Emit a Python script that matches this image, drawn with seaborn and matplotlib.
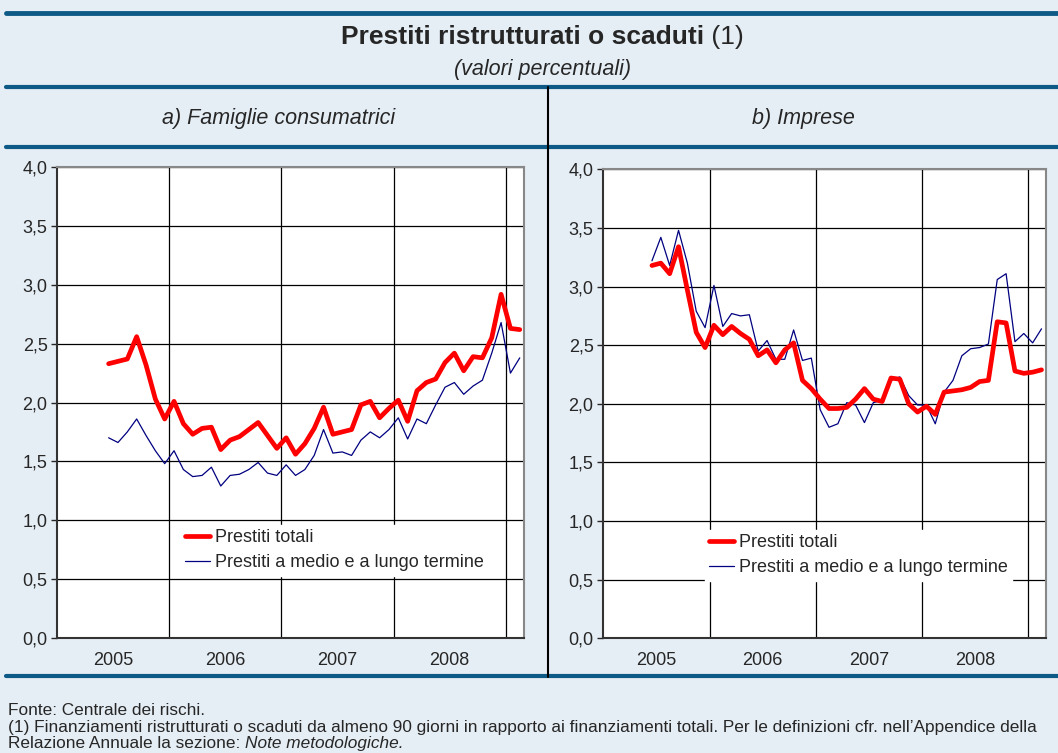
import numpy as np
import pandas as pd
import seaborn as sns
import matplotlib.pyplot as plt

# Monthly data, Dec 2004 - Aug 2008 (values in %)
months = pd.period_range("2004-12", "2008-08", freq="M")
years = ["2005", "2006", "2007", "2008"]

fam_totali = [2.33, 2.35, 2.37, 2.56, 2.32, 2.03, 1.86, 2.01, 1.82, 1.73, 1.78, 1.79,
              1.60, 1.68, 1.71, 1.77, 1.83, 1.72, 1.61, 1.70, 1.56, 1.65, 1.78, 1.96,
              1.73, 1.75, 1.77, 1.98, 2.01, 1.87, 1.95, 2.02, 1.84, 2.10, 2.17, 2.20,
              2.34, 2.42, 2.27, 2.39, 2.38, 2.55, 2.92, 2.63, 2.62]
fam_mlt = [1.70, 1.66, 1.75, 1.86, 1.72, 1.59, 1.48, 1.59, 1.43, 1.37, 1.38, 1.45,
           1.29, 1.38, 1.39, 1.43, 1.49, 1.40, 1.38, 1.47, 1.38, 1.43, 1.55, 1.77,
           1.57, 1.58, 1.55, 1.68, 1.75, 1.70, 1.77, 1.87, 1.69, 1.86, 1.82, 1.98,
           2.13, 2.17, 2.07, 2.14, 2.19, 2.42, 2.68, 2.25, 2.38]
imp_totali = [3.18, 3.20, 3.11, 3.34, 2.97, 2.61, 2.48, 2.67, 2.59, 2.66, 2.60, 2.55,
              2.41, 2.46, 2.35, 2.46, 2.52, 2.20, 2.13, 2.04, 1.96, 1.96, 1.97, 2.04,
              2.13, 2.04, 2.02, 2.22, 2.21, 2.00, 1.93, 1.98, 1.91, 2.10, 2.11, 2.12,
              2.14, 2.19, 2.20, 2.70, 2.69, 2.28, 2.26, 2.27, 2.29]
imp_mlt = [3.22, 3.42, 3.18, 3.48, 3.20, 2.79, 2.65, 3.01, 2.66, 2.77, 2.75, 2.76,
           2.45, 2.54, 2.38, 2.38, 2.63, 2.37, 2.39, 1.95, 1.80, 1.83, 2.01, 1.99,
           1.84, 2.01, 2.03, 2.20, 2.23, 2.07, 1.99, 1.99, 1.83, 2.10, 2.20, 2.41,
           2.47, 2.48, 2.51, 3.06, 3.11, 2.53, 2.60, 2.52, 2.64]

bg = "#E6EEF5"
band = "#0E5A87"

sns.set_style("white")
plt.rcParams["font.family"] = ["Liberation Sans", "DejaVu Sans"]

fig = plt.figure(figsize=(10.58, 7.53), dpi=100, facecolor=bg)
renderer = fig.canvas.get_renderer()


def two_part(x, y, first, second, size, kw1, kw2, center=False):
    # draw two texts with different styles side by side
    t1 = fig.text(x, y, first, va="center", fontsize=size, **kw1)
    t2 = fig.text(x, y, second, va="center", fontsize=size, **kw2)
    w1 = t1.get_window_extent(renderer).width / fig.bbox.width
    w2 = t2.get_window_extent(renderer).width / fig.bbox.width
    left = x - (w1 + w2) / 2 if center else x
    t1.set_x(left)
    t2.set_x(left + w1)


# header / frame lines
for yy, lw in [(0.9831, 3.5), (0.8841, 3), (0.8052, 3), (0.1026, 3)]:
    fig.add_artist(plt.Line2D([0.006, 1.0], [yy, yy], color=band, lw=lw))
fig.add_artist(plt.Line2D([0.518, 0.518], [0.1010, 0.8841], color="black", lw=1.5))

two_part(0.5128, 0.951, "Prestiti ristrutturati o scaduti", " (1)", 19,
         {"fontweight": "bold"}, {}, center=True)
fig.text(0.5128, 0.908, "(valori percentuali)", ha="center", va="center",
         fontsize=15.5, style="italic")
fig.text(0.263, 0.843, "a) Famiglie consumatrici", ha="center", va="center",
         fontsize=15.5, style="italic")
fig.text(0.759, 0.843, "b) Imprese", ha="center", va="center",
         fontsize=15.5, style="italic")

fig.text(0.008, 0.057, "Fonte: Centrale dei rischi.", fontsize=12.4, va="center")
fig.text(0.008, 0.034, "(1) Finanziamenti ristrutturati o scaduti da almeno 90 giorni in rapporto "
         "ai finanziamenti totali. Per le definizioni cfr. nell\u2019Appendice della",
         fontsize=12.4, va="center")
two_part(0.008, 0.012, "Relazione Annuale la sezione: ", "Note metodologiche.", 12.4,
         {}, {"style": "italic"})

panels = [
    ([0.0541, 0.1531, 0.4416, 0.6247], fam_totali, fam_mlt, (0.264, 0.240)),
    ([0.5702, 0.1523, 0.4184, 0.6228], imp_totali, imp_mlt, (0.229, 0.232)),
]

x = np.arange(len(months))
for rect, tot, mlt, anchor in panels:
    ax = fig.add_axes(rect)
    ax.set_facecolor("white")
    sns.lineplot(x=x, y=tot, ax=ax, color="#FF0000", linewidth=3.4,
                 label="Prestiti totali", zorder=3)
    sns.lineplot(x=x, y=mlt, ax=ax, color="#000080", linewidth=0.9,
                 label="Prestiti a medio e a lungo termine", zorder=2)
    ax.set_xlim(-5.5, 44.5)
    ax.set_ylim(0, 4)
    ax.set_yticks(np.arange(0, 4.01, 0.5))
    ax.set_yticklabels([f"{v:.1f}".replace(".", ",") for v in np.arange(0, 4.01, 0.5)])
    ax.set_xticks(np.arange(len(years)) * 12 + 0.5)
    ax.set_xticklabels(years)
    ax.set_xticks(np.arange(len(years)) * 12 + 6.5, minor=True)
    ax.grid(axis="y", which="major", color="black", lw=0.9)
    ax.grid(axis="x", which="minor", color="black", lw=0.9)
    ax.set_axisbelow(True)
    ax.tick_params(axis="x", which="major", direction="in", length=4, width=1,
                   labelsize=13, pad=10)
    ax.tick_params(axis="x", which="minor", length=0)
    ax.tick_params(axis="y", direction="out", length=4, width=1, labelsize=13,
                   left=True, pad=3)
    for side in ["left", "bottom"]:
        ax.spines[side].set_color("#333333")
        ax.spines[side].set_linewidth(1.5)
    for side in ["top", "right"]:
        ax.spines[side].set_color("#888888")
        ax.spines[side].set_linewidth(1.5)
    ax.set_xlabel("")
    ax.set_ylabel("")
    leg = ax.legend(loc="upper left", bbox_to_anchor=anchor, frameon=True,
                    fontsize=13, handlelength=1.4, handletextpad=0.25,
                    labelspacing=0.45, borderpad=0.25, borderaxespad=0,
                    fancybox=False)
    leg.get_frame().set_facecolor("white")
    leg.get_frame().set_edgecolor("white")
    leg.get_frame().set_alpha(1)
    leg.set_zorder(5)

fig.savefig("out.png", dpi=100, facecolor=bg)
